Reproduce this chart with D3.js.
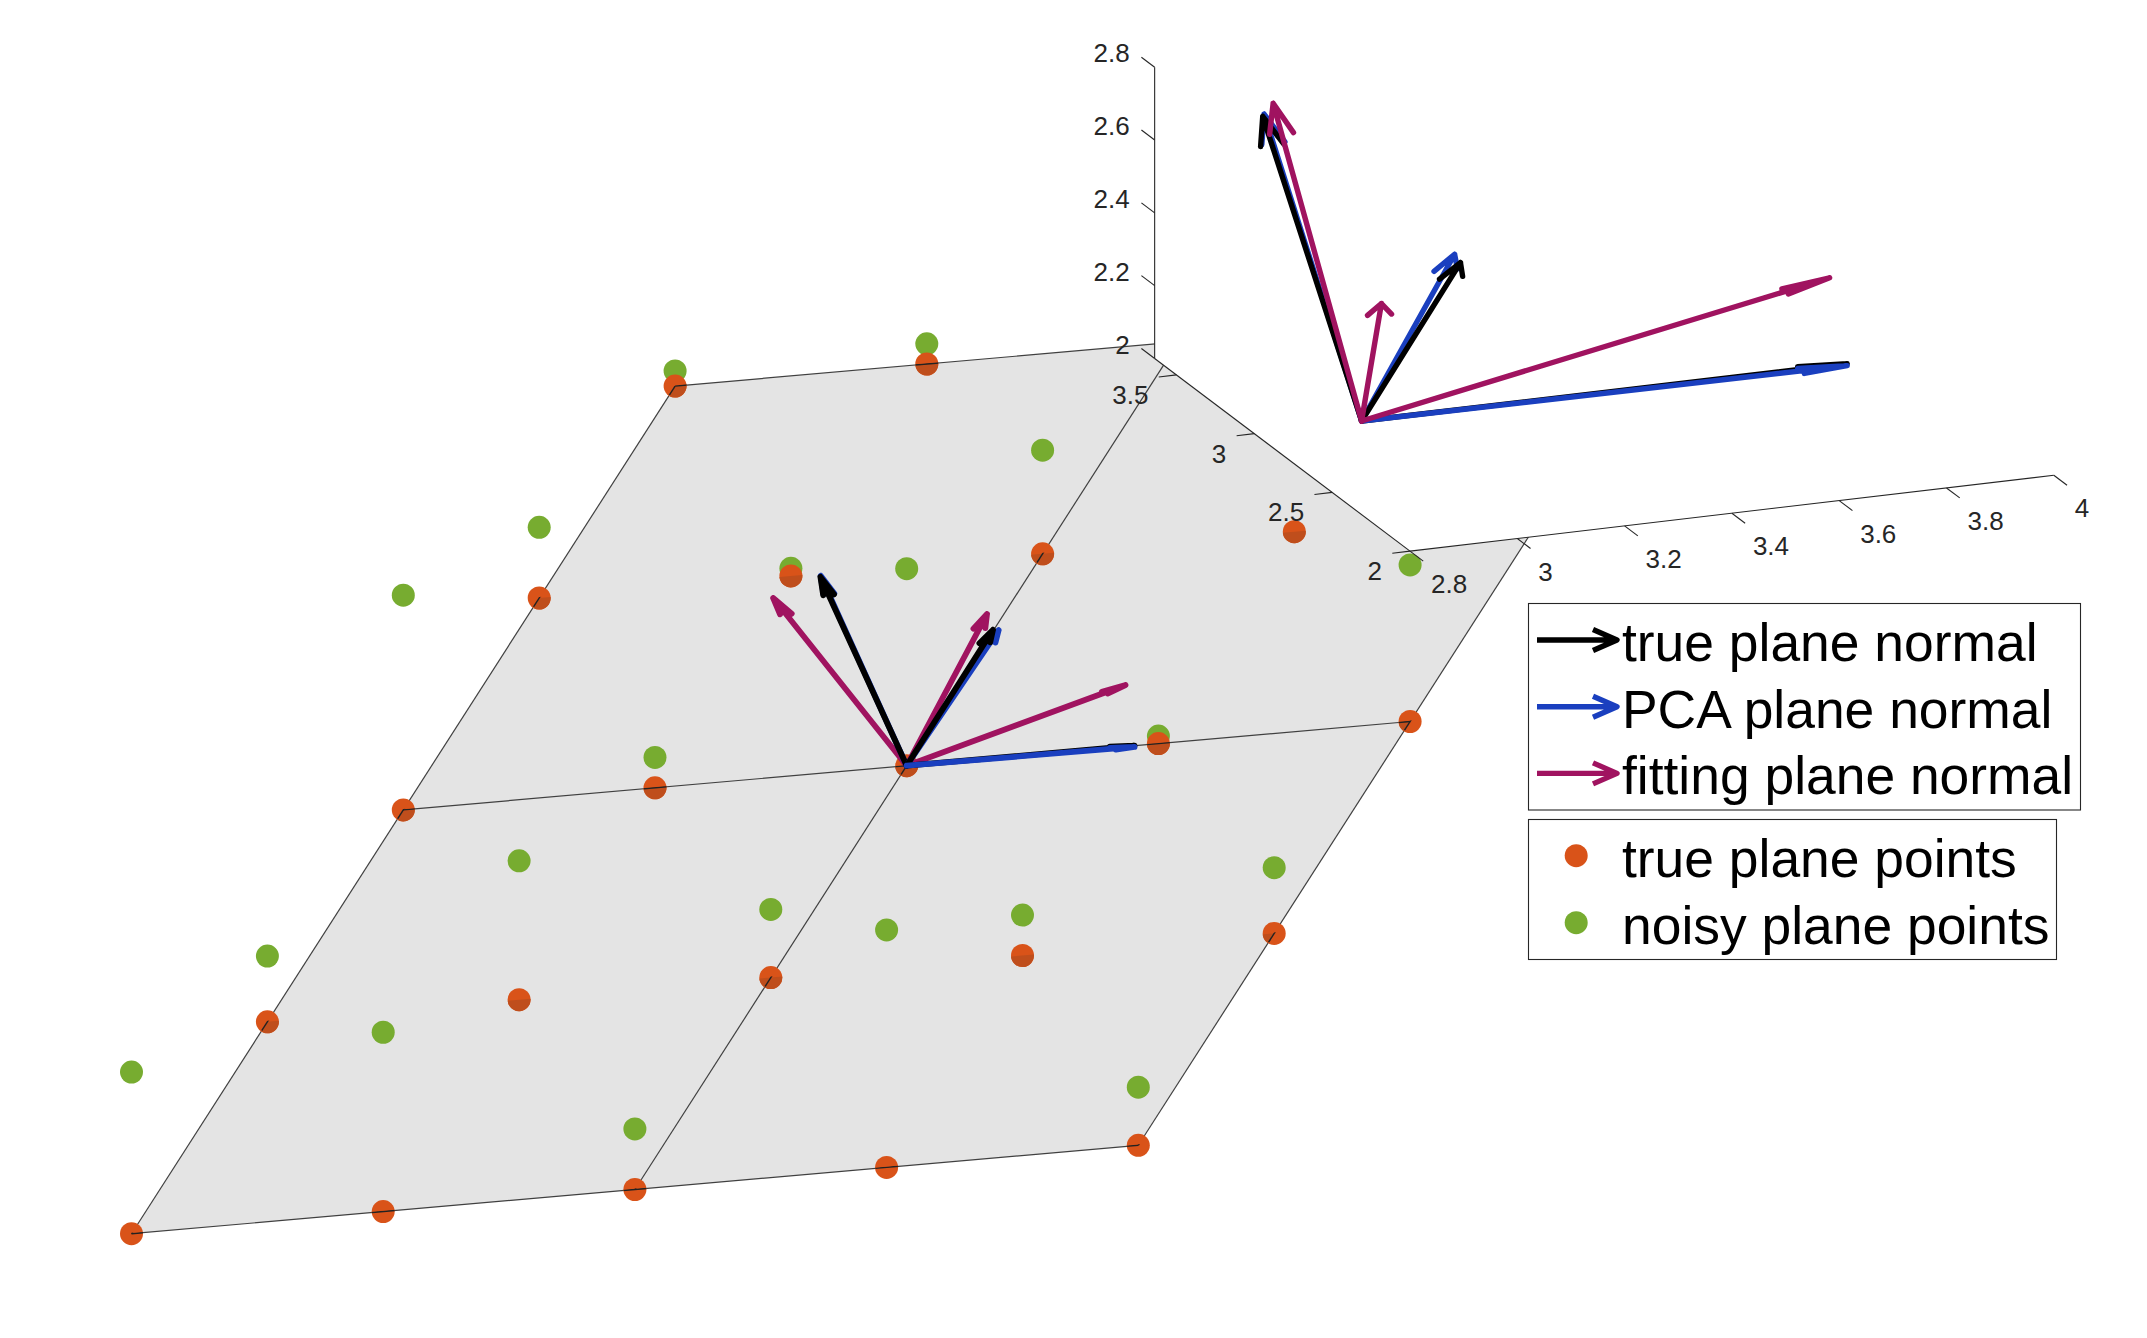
<!DOCTYPE html>
<html>
<head>
<meta charset="utf-8">
<script src="https://cdn.jsdelivr.net/npm/d3@7/dist/d3.min.js"></script>
<style>
  html, body { margin: 0; background: #fff; }
  text { font-family: "Liberation Sans", Arial, sans-serif; }
</style>
</head>
<body>
<div class="chart"></div>
<script>
// plane grid, the true plane is y + z = 5
var gridX = [1, 2, 3, 4, 5];
var gridY = [5, 4, 3, 2, 1];
var gridZ = [0, 1, 2, 3, 4];

// how far each noisy point sits above the true plane, rows follow gridZ
var noiseZ = [
  [0.64, 0.71, 0.24, 0.94, 0.23],
  [0.26, 0.55, 0.27, 0.16, 0.26],
  [0.85, 0.12, 0.78, 0.03, 0.62],
  [0.28, 0.03, 0.41, 0.60, 0.40],
  [0.06, 0.08, 0.30, 0.50, 0.20]
];

// normals all start here
var normalBase = [3, 3, 2];
var trueNormals = [[3, 3.635, 2.632], [3, 2.365, 2.64], [3.905, 3, 2]];
var pcaNormals = [[3.004, 3.64, 2.636], [2.947, 2.22, 2.719], [3.905, 3, 1.995]];
var fitNormals = [[3.26, 4.464, 2.355], [2.709, 1.87, 2.738], [3.87, 2.992, 2.245]];
var trueNormalsLow = [[3, 3.635, 2.645], [3, 2.365, 2.64], [3.905, 3, 2]];
var pcaNormalsLow = [[3.004, 3.64, 2.648], [2.944, 2.22, 2.667], [3.905, 3, 1.995]];
var fitNormalsLow = [[3.26, 4.464, 2.405], [2.709, 1.87, 2.808], [3.865, 2.992, 2.245]];

var xTicks = [2.8, 3, 3.2, 3.4, 3.6, 3.8, 4];
var yTicks = [2, 2.5, 3, 3.5];
var zTicks = [2, 2.2, 2.4, 2.6, 2.8];
var xLim = [2.8, 4];
var yLim = [2, 3.64];
var zLim = [2, 2.8];

var arrowLabels = ["true plane normal", "PCA plane normal", "fitting plane normal"];
var pointLabels = ["true plane points", "noisy plane points"];

var svgWidth = 2147;
var svgHeight = 1338;
var orange = "#D95319", orangeDark = "#BF4E1C", green = "#77AC30";
var black = "#000000", blue = "#1A3FBF", magenta = "#A01360";
var axisColor = "#262626";

var svg = d3.select(".chart")
  .append("svg")
  .attr("width", svgWidth)
  .attr("height", svgHeight)
  .style("display", "block");

// orthographic view: one linear scale per data axis and per screen axis
function makeView(origin, ex, ey, ez) {
  var s = [ex, ey, ez].map(function(e, k) {
    return [0, 1].map(function(c) {
      return d3.scaleLinear().domain([normalBase[k], normalBase[k] + 1]).range([0, e[c]]);
    });
  });
  return function(p) {
    return [
      origin[0] + s[0][0](p[0]) + s[1][0](p[1]) + s[2][0](p[2]),
      origin[1] + s[0][1](p[0]) + s[1][1](p[1]) + s[2][1](p[2])
    ];
  };
}

var planeView = makeView([906.7, 765.7], [251.7, -22.1], [-135.9, -40.7], [0, -252.6]);
var boxView = makeView([1361.6, 421], [536.5, -63.2], [-155.7, -117.5], [0, -364]);

var line = d3.line();

// matches quiver3: head barbs go back along the shaft and sideways in x-y
var headBack = 0.095, headSide = 0.0215;
function drawArrow(group, view, tip, color, width) {
  var u = tip[0] - normalBase[0], v = tip[1] - normalBase[1], w = tip[2] - normalBase[2];
  var len = Math.sqrt(u * u + v * v);
  var sideX = headSide * v / len, sideY = -headSide * u / len;
  var back = [tip[0] - headBack * u, tip[1] - headBack * v, tip[2] - headBack * w];
  var b1 = [back[0] + sideX, back[1] + sideY, back[2]];
  var b2 = [back[0] - sideX, back[1] - sideY, back[2]];
  group.append("path")
    .attr("d", line([normalBase, tip].map(view)) + line([b1, tip, b2].map(view)))
    .attr("fill", "none")
    .attr("stroke", color)
    .attr("stroke-width", width)
    .attr("stroke-linecap", "round")
    .attr("stroke-linejoin", "round");
}

// points of the grid
var truePoints = [], noisyPoints = [];
gridZ.forEach(function(z, j) {
  gridX.forEach(function(x, i) {
    truePoints.push([x, gridY[j], z]);
    noisyPoints.push([x, gridY[j], z + noiseZ[j][i]]);
  });
});

var planeCorners = [
  [gridX[0], gridY[0], gridZ[0]], [gridX[4], gridY[0], gridZ[0]],
  [gridX[4], gridY[4], gridZ[4]], [gridX[0], gridY[4], gridZ[4]]
];

var defs = svg.append("defs");
defs.append("clipPath").attr("id", "planeClip")
  .append("path").attr("d", line(planeCorners.map(planeView)) + "Z");

// the half of a dot that lies behind the translucent plane
var radius = 11.5;
var slope = Math.atan2(planeView([4, 3, 2])[1] - planeView([3, 3, 2])[1],
                       planeView([4, 3, 2])[0] - planeView([3, 3, 2])[0]);
function lowerHalf(p) {
  var c = planeView(p);
  var dx = radius * Math.cos(slope), dy = radius * Math.sin(slope);
  return "M" + (c[0] - dx) + "," + (c[1] - dy) +
    "A" + radius + "," + radius + " 0 0 0 " + (c[0] + dx) + "," + (c[1] + dy) + "Z";
}
defs.append("clipPath").attr("id", "halfClip")
  .selectAll("path").data(truePoints).enter().append("path")
  .attr("d", function(d) { return lowerHalf(d); })
  .attr("transform", "translate(0,-1)");

// lower plot
var planeGroup = svg.append("g");
planeGroup.append("path")
  .attr("d", line(planeCorners.map(planeView)) + "Z")
  .attr("fill", "#E4E4E4");

function drawGridLines(group, color, width) {
  [0, 2, 4].forEach(function(k) {
    group.append("path")
      .attr("d", line([[gridX[0], gridY[k], gridZ[k]], [gridX[4], gridY[k], gridZ[k]]].map(planeView)))
      .attr("fill", "none").attr("stroke", color).attr("stroke-width", width);
    group.append("path")
      .attr("d", line([[gridX[k], gridY[0], gridZ[0]], [gridX[k], gridY[4], gridZ[4]]].map(planeView)))
      .attr("fill", "none").attr("stroke", color).attr("stroke-width", width);
  });
}
drawGridLines(planeGroup, "#404040", 1.2);

planeGroup.selectAll("circle.noisy").data(noisyPoints).enter().append("circle")
  .attr("class", "noisy")
  .attr("cx", function(d) { return planeView(d)[0]; })
  .attr("cy", function(d) { return planeView(d)[1]; })
  .attr("r", radius)
  .attr("fill", green);

planeGroup.selectAll("circle.true").data(truePoints).enter().append("circle")
  .attr("class", "true")
  .attr("cx", function(d) { return planeView(d)[0]; })
  .attr("cy", function(d) { return planeView(d)[1]; })
  .attr("r", radius)
  .attr("fill", orange);

planeGroup.append("g").attr("clip-path", "url(#planeClip)")
  .selectAll("path").data(truePoints).enter().append("path")
  .attr("d", function(d) { return lowerHalf(d); })
  .attr("fill", orangeDark);

drawGridLines(planeGroup.append("g").attr("clip-path", "url(#halfClip)"), "#222222", 1.4);

var lowerArrows = planeGroup.append("g");
var lowerWidth = 5.8;
drawArrow(lowerArrows, planeView, fitNormalsLow[0], magenta, lowerWidth);
drawArrow(lowerArrows, planeView, fitNormalsLow[1], magenta, lowerWidth);
drawArrow(lowerArrows, planeView, fitNormalsLow[2], magenta, lowerWidth);
drawArrow(lowerArrows, planeView, pcaNormalsLow[0], blue, lowerWidth);
drawArrow(lowerArrows, planeView, trueNormalsLow[0], black, lowerWidth);
drawArrow(lowerArrows, planeView, pcaNormalsLow[1], blue, lowerWidth);
drawArrow(lowerArrows, planeView, trueNormalsLow[1], black, lowerWidth);
drawArrow(lowerArrows, planeView, trueNormalsLow[2], black, lowerWidth);
drawArrow(lowerArrows, planeView, pcaNormalsLow[2], blue, lowerWidth);

// upper plot sits on top with its own white background
var boxGroup = svg.append("g");
boxGroup.append("path")
  .attr("d", line([
    [xLim[0], yLim[0], zLim[0]], [xLim[1], yLim[0], zLim[0]], [xLim[1], yLim[1], zLim[0]],
    [xLim[1], yLim[1], zLim[1]], [xLim[0], yLim[1], zLim[1]], [xLim[0], yLim[1], zLim[0]]
  ].map(boxView)) + "Z")
  .attr("fill", "#ffffff");

function axisLine(a, b) {
  boxGroup.append("path")
    .attr("d", line([a, b].map(boxView)))
    .attr("fill", "none").attr("stroke", axisColor).attr("stroke-width", 1.1);
}
axisLine([xLim[0], yLim[0], zLim[0]], [xLim[1], yLim[0], zLim[0]]);
axisLine([xLim[0], yLim[0], zLim[0]], [xLim[0], yLim[1], zLim[0]]);
axisLine([xLim[0], yLim[1], zLim[0]], [xLim[0], yLim[1], zLim[1]]);

var tickFontSize = 26;
function tickLabel(pos, text, anchor) {
  boxGroup.append("text")
    .attr("x", pos[0]).attr("y", pos[1])
    .attr("dy", "0.35em")
    .attr("text-anchor", anchor)
    .attr("font-size", tickFontSize)
    .attr("fill", axisColor)
    .text(text);
}
xTicks.forEach(function(t) {
  axisLine([t, yLim[0], zLim[0]], [t, yLim[0] - 0.085, zLim[0]]);
  var p = boxView([t, yLim[0], zLim[0]]);
  tickLabel([p[0] + 21, p[1] + 33], String(t), "start");
});
yTicks.forEach(function(t) {
  axisLine([xLim[0], t, zLim[0]], [xLim[0] - 0.033, t, zLim[0]]);
  var p = boxView([xLim[0], t, zLim[0]]);
  tickLabel([p[0] - 28, p[1] + 20], String(t), "end");
});
zTicks.forEach(function(t) {
  axisLine([xLim[0], yLim[1], t], [xLim[0], yLim[1] + 0.085, t]);
  var p = boxView([xLim[0], yLim[1], t]);
  tickLabel([p[0] - 25, p[1] - 14], String(t), "end");
});

var upperArrows = boxGroup.append("g");
var upperWidth = 5.4;
drawArrow(upperArrows, boxView, pcaNormals[0], blue, upperWidth);
drawArrow(upperArrows, boxView, trueNormals[0], black, upperWidth);
drawArrow(upperArrows, boxView, trueNormals[2], black, upperWidth);
drawArrow(upperArrows, boxView, pcaNormals[2], blue, upperWidth);
drawArrow(upperArrows, boxView, pcaNormals[1], blue, upperWidth);
drawArrow(upperArrows, boxView, trueNormals[1], black, upperWidth);
drawArrow(upperArrows, boxView, fitNormals[1], magenta, upperWidth);
drawArrow(upperArrows, boxView, fitNormals[0], magenta, upperWidth);
drawArrow(upperArrows, boxView, fitNormals[2], magenta, upperWidth);

// legends
var legend = svg.append("g");
var legendFont = 53.4;
legend.append("rect").attr("x", 1528.5).attr("y", 603.5).attr("width", 552).attr("height", 206.5)
  .attr("fill", "#fff").attr("stroke", axisColor).attr("stroke-width", 1.1);
legend.append("rect").attr("x", 1528.5).attr("y", 819.5).attr("width", 528).attr("height", 140)
  .attr("fill", "#fff").attr("stroke", axisColor).attr("stroke-width", 1.1);

[black, blue, magenta].forEach(function(color, i) {
  var y = 640 + i * 66.7;
  legend.append("path")
    .attr("d", line([[1537, y], [1617, y]]) + line([[1593, y - 10.5], [1617, y], [1593, y + 10.5]]))
    .attr("fill", "none").attr("stroke", color).attr("stroke-width", 5.4)
    .attr("stroke-linejoin", "round");
  legend.append("text").attr("x", 1622).attr("y", 661 + i * 66.7)
    .attr("font-size", legendFont).attr("fill", "#000").text(arrowLabels[i]);
});
[orange, green].forEach(function(color, i) {
  legend.append("circle").attr("cx", 1576.2).attr("cy", 855.7 + i * 67).attr("r", radius).attr("fill", color);
  legend.append("text").attr("x", 1622).attr("y", 877 + i * 67)
    .attr("font-size", legendFont).attr("fill", "#000").text(pointLabels[i]);
});
</script>
</body>
</html>
